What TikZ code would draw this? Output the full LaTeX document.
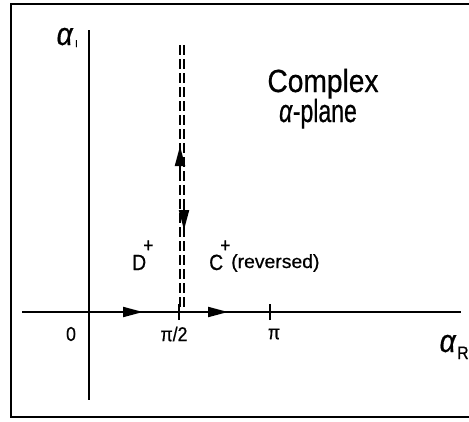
\documentclass[tikz,border=0pt]{standalone}
\usepackage{fontspec}
\setmainfont{Liberation Sans}[FakeStretch=0.88, FakeBold=0.6]
\usetikzlibrary{arrows.meta}

\begin{document}
\begin{tikzpicture}[x=1pt, y=-1pt,
	  axis/.style={line width=2pt},
	  cut/.style={dash pattern=on 10pt off 4pt, line width=1.4pt},
	  flow/.style={-{Triangle[length=20pt,width=10pt]}, line width=2pt},
	  lbl/.style={inner sep=0pt, font=\fontsize{20}{20}\selectfont},
	  big/.style={inner sep=0pt, anchor=base, font=\fontsize{32}{32}\selectfont},
	  mid/.style={inner sep=0pt, anchor=base west, font=\fontsize{22}{22}\selectfont},
	  sup/.style={inner sep=0pt, anchor=base west, font=\fontsize{20}{20}\selectfont},
	]
	\useasboundingbox (0,0) rectangle (469,421);
	
	% Frame
	\draw[line width=2pt] (469,4) -- (11,4) -- (11,417) -- (469,417);
	
	% Axes
	\coordinate (xl) at (22,312);
	\coordinate (xr) at (461,312);
	\coordinate (yt) at (89,30);
	\coordinate (yb) at (89,400);
	\draw[axis] (xl) -- (xr);
	\draw[line width=1.6pt] (yt) -- (yb);
	
	% Ticks
	\coordinate (half) at (179,312);
	\coordinate (full) at (270,312);
	\draw[line width=1.4pt] ([yshift=-8pt]full) -- ([yshift=8pt]full);
	\draw[line width=1.4pt] ([yshift=-8pt]half) -- ([yshift=8pt]half);
	
	\node[lbl] (zero) at (71,334) {0};
	\node[lbl] (halfpi) at (174,334) {π/2};
	\node[lbl] (pi) at (274,334) {π};
	
	% Axis names
	\node[big] (ai) at (65,45) {\textit{α}};
	\node[inner sep=0pt, anchor=base west, font=\fontsize{10}{10}\selectfont] (ai-sub) at (75,47) {I};
	\node[big] (ar) at (448,352) {\textit{α}};
	\node[inner sep=0pt, anchor=base west, font=\fontsize{18}{18}\selectfont] (ar-sub) at (457,359) {R};
	
	% Cut (two dashed lines)
	\coordinate (lt) at (180,45);
	\coordinate (lb) at (180,312);
	\coordinate (rt) at (184,45);
	\coordinate (rb) at (184,312);
	\draw[cut] (lt) -- (lb);
	\draw[cut] (rt) -- (rb);
	\coordinate (up-s) at (180,172);
	\coordinate (up-e) at (180,146);
	\coordinate (dn-s) at (184,202);
	\coordinate (dn-e) at (184,230);
	\draw[flow] (up-s) -- (up-e);
	\draw[flow] (dn-s) -- (dn-e);
	
	% Flow on the real axis
	\coordinate (d-s) at (118,312);
	\coordinate (d-e) at (143,312);
	\coordinate (c-s) at (203,312);
	\coordinate (c-e) at (228,312);
	\draw[flow] (d-s) -- (d-e);
	\draw[flow] (c-s) -- (c-e);
	
	% Labels
	\node[mid] (dplus) at (132,270) {D};
	\node[sup] (dplus-sup) at (143,252) {+};
	\node[mid] (cplus) at (209,270) {C};
	\node[sup] (cplus-sup) at (220,252) {+};
	\node[inner sep=0pt, anchor=base west, font=\fontsize{19}{19}\selectfont\addfontfeature{FakeStretch=1.02}] (rev) at (231,268) {(reversed)};
	
	\node[big] (title) at (323,92) {Complex};
	\node[big, font=\fontsize{32}{32}\selectfont\addfontfeature{FakeStretch=0.72}] (plane) at (318,122) {\textit{α}-plane};
	
	\end{tikzpicture}
\end{document}
